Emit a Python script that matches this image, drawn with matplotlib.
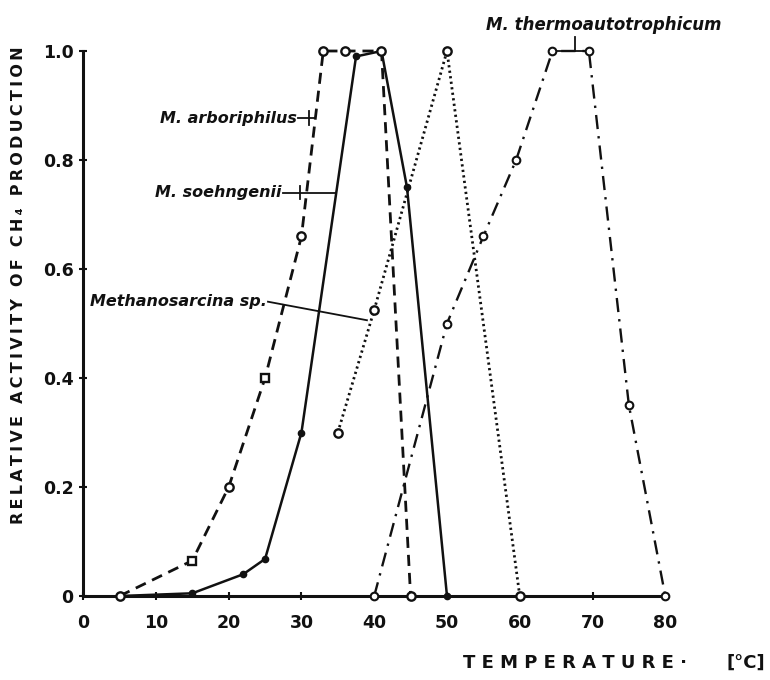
import matplotlib
matplotlib.use("Agg")
import matplotlib.pyplot as plt

# M. arboriphilus (dashed, open markers)
arb_x = [5, 15, 20, 25, 30, 33, 36, 41, 45]
arb_y = [0.0, 0.065, 0.20, 0.40, 0.66, 1.0, 1.0, 1.0, 0.0]
arb_m = ['o', 's', 'o', 's', 'o', 'o', 'o', 'o', 'o']

# M. soehngenii (solid, filled dots)
soe_x = [5, 15, 22, 25, 30, 37.5, 41, 44.5, 50]
soe_y = [0.0, 0.005, 0.04, 0.068, 0.30, 0.99, 1.0, 0.75, 0.0]

# Methanosarcina sp. (dotted, open circles)
msa_x = [35, 40, 50, 60]
msa_y = [0.30, 0.525, 1.0, 0.0]

# M. thermoautotrophicum (dash-dot, open markers)
thr_x = [40, 50, 55, 59.5, 64.5, 69.5, 75, 80]
thr_y = [0.0, 0.50, 0.66, 0.80, 1.0, 1.0, 0.35, 0.0]

xticks = [0, 10, 20, 30, 40, 50, 60, 70, 80]
yticks = [0, 0.2, 0.4, 0.6, 0.8, 1.0]
ytick_labels = ['0', '0.2', '0.4', '0.6', '0.8', '1.0']

fig = plt.figure(figsize=(7.7, 6.8), dpi=100)
ax = fig.add_axes([0.108, 0.1235, 0.756, 0.8015])
ink = '#111111'

# Lines
ax.plot(arb_x, arb_y, color=ink, lw=2.0, ls=(0, (4, 2.5)), clip_on=False, zorder=3)
ax.plot(soe_x, soe_y, color=ink, lw=1.8, ls='-', clip_on=False, zorder=3)
ax.plot(msa_x, msa_y, color=ink, lw=2.0, ls=(0, (0.8, 1.2)), clip_on=False, zorder=3)
ax.plot(thr_x, thr_y, color=ink, lw=1.7, ls=(0, (6, 3, 1, 3)), clip_on=False, zorder=3)

# Markers
for x, y, m in zip(arb_x, arb_y, arb_m):
    ax.plot([x], [y], marker=m, ms=6, mfc='white', mec=ink, mew=1.7, clip_on=False, zorder=5)
ax.plot(soe_x[1:], soe_y[1:], ls='none', marker='o', ms=4.5, mfc=ink, mec=ink, clip_on=False, zorder=4)
ax.plot(msa_x, msa_y, ls='none', marker='o', ms=6, mfc='white', mec=ink, mew=1.7, clip_on=False, zorder=5)
ax.plot(thr_x, thr_y, ls='none', marker='o', ms=5.5, mfc='white', mec=ink, mew=1.5, clip_on=False, zorder=5)

# Axes style
ax.set_xlim(0, 80)
ax.set_ylim(0, 1.0)
for s in ['top', 'right']:
    ax.spines[s].set_visible(False)
for s in ['left', 'bottom']:
    ax.spines[s].set_linewidth(2.2)
    ax.spines[s].set_color(ink)
ax.set_xticks(xticks)
ax.set_xticklabels([str(t) for t in xticks])
ax.set_yticks(yticks)
ax.set_yticklabels(ytick_labels)
ax.tick_params(axis='both', direction='inout', length=6, width=1.5, colors=ink,
               labelsize=12.5)
ax.tick_params(axis='x', pad=10)
ax.tick_params(axis='y', pad=4)
for lab in ax.get_xticklabels() + ax.get_yticklabels():
    lab.set_fontweight('bold')

ylab = '\u2009'.join(list('RELATIVE ACTIVITY OF CH\u2084 PRODUCTION'))
fig.text(0.024, 0.581, ylab, rotation=90, ha='center', va='center',
         fontsize=11.5, fontweight='bold', color=ink, family=['DejaVu Sans'])
fig.text(0.601, 0.025, 'T E M P E R A T U R E ·', ha='left', va='center',
         fontsize=13, fontweight='bold', color=ink)
fig.text(0.994, 0.025, '[°C]', ha='right', va='center',
         fontsize=13, fontweight='bold', color=ink)

# Annotations
lab_kw = dict(fontsize=11.5, fontweight='bold', fontstyle='italic', color=ink)
ax.text(29.4, 0.877, 'M. arboriphilus', ha='right', va='center', **lab_kw)
ax.plot([29.5, 31.9], [0.877, 0.877], color=ink, lw=1.3)
ax.plot([31.0, 31.0], [0.865, 0.889], color=ink, lw=1.3)

ax.text(27.2, 0.74, 'M. soehngenii', ha='right', va='center', **lab_kw)
ax.plot([27.4, 34.8], [0.74, 0.74], color=ink, lw=1.3)
ax.plot([29.8, 29.8], [0.728, 0.752], color=ink, lw=1.3)

ax.text(25.2, 0.54, 'Methanosarcina sp.', ha='right', va='center', **lab_kw)
ax.plot([25.4, 39.0], [0.54, 0.506], color=ink, lw=1.3)

ax.text(71.5, 1.048, 'M. thermoautotrophicum', ha='center', va='center', clip_on=False,
        fontsize=12, fontweight='bold', fontstyle='italic', color=ink)
ax.plot([67.6, 67.6], [1.0, 1.025], color=ink, lw=1.3, clip_on=False)
ax.plot([64.5, 69.5], [1.0, 1.0], color=ink, lw=1.3, clip_on=False)

fig.savefig('out.png', dpi=100, facecolor='white')
